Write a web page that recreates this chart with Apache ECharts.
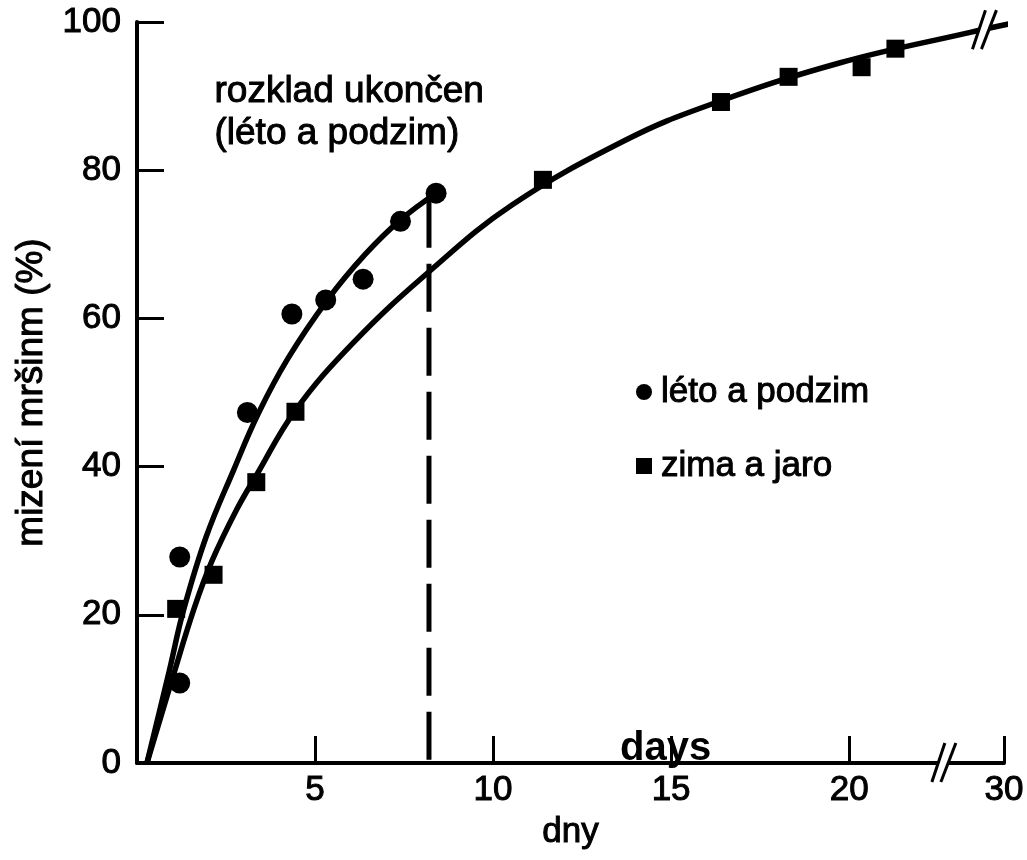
<!DOCTYPE html>
<html>
<head>
<meta charset="utf-8">
<title>mizení mršin</title>
<script src="https://cdn.jsdelivr.net/npm/echarts@6.0.0/dist/echarts.min.js"></script>
<style>
  html, body { margin: 0; padding: 0; background: #fff; }
  #chart { width: 1027px; height: 860px; }
</style>
</head>
<body>
<div id="chart"></div>
<script>
// léto a podzim - namerene body
var letoDny = [1.2, 1.2, 3.1, 4.35, 5.3, 6.35, 7.4, 8.4]
var letoMizeni = [10.8, 27.8, 47.3, 60.6, 62.5, 65.3, 73.1, 76.9]
// zima a jaro - namerene body
var zimaDny = [1.1, 2.15, 3.35, 4.45, 11.4, 16.4, 18.3, 20.35, 21.3]
var zimaMizeni = [20.8, 25.4, 37.9, 47.4, 78.7, 89.2, 92.6, 93.9, 96.4]
// prolozene krivky
var letoKrivkaDny = [0.28, 0.91, 1.3, 1.94, 2.71, 3.41, 4.24, 5.35, 6.4, 7.4, 8.4]
var letoKrivkaMizeni = [0, 12.5, 20.5, 30.5, 39.5, 47.2, 54.6, 62.5, 68.6, 73.3, 76.9]
var zimaKrivkaDny = [0.28, 1.0, 1.6, 2.1, 2.8, 3.35, 4.45, 6.09, 8.2, 10.53, 13.74, 16.07, 19.75, 23.4, 24.65]
var zimaKrivkaMizeni = [0, 11.5, 20.8, 27.2, 34.2, 38.8, 47.6, 56.8, 66.3, 75.3, 84.1, 88.8, 94.5, 98.6, 99.9]
// konec rozkladu (leto a podzim) - svisla carkovana cara
var konecDen = 8.2
var konecMizeni = 76
// osa x je za 20 prerusena, popisek 30 lezi na pozici 24.35
var xTickPos = [5, 10, 15, 20, 24.35]
var xTickText = ['5', '10', '15', '20', '30']
// mista preruseni (osa x a krivka zima)
var breakOsa = [22.66, 0]
var breakKrivka = [23.8, 98.9]

var font = '"Liberation Sans", Arial, Helvetica, sans-serif'
// sken ma tucnejsi pismo - jemny obrys
var obrys = { textBorderColor: '#000', textBorderWidth: 1 }

function pary(xs, ys) {
  return xs.map(function (x, i) { return [x, ys[i]] })
}

function txt(size, extra) {
  return Object.assign({ fontFamily: font, fontSize: size, color: '#000' }, obrys, extra || {})
}

var chart = echarts.init(document.getElementById('chart'))
chart.setOption({
  animation: false,
  backgroundColor: '#fff',
  grid: { left: 137, right: 11, top: 22, bottom: 97 },
  legend: {
    orient: 'vertical',
    left: 631,
    top: 369,
    itemWidth: 16,
    itemHeight: 16,
    itemGap: 38,
    selectedMode: false,
    itemStyle: { opacity: 1 },
    textStyle: txt(35, { padding: [0, 0, 0, 4] }),
    data: [
      { name: 'léto a podzim', icon: 'circle' },
      { name: 'zima a jaro', icon: 'rect' }
    ]
  },
  xAxis: {
    type: 'value',
    min: 0,
    max: 24.35,
    name: 'dny',
    nameLocation: 'middle',
    nameGap: 52,
    nameTextStyle: txt(35),
    axisLine: { show: true, lineStyle: { color: '#000', width: 4 } },
    axisTick: { inside: true, length: 27, customValues: xTickPos, lineStyle: { color: '#000', width: 3 } },
    axisLabel: Object.assign(txt(35, { margin: 10 }), {
      customValues: xTickPos,
      formatter: function (v) { return xTickText[xTickPos.indexOf(v)] }
    }),
    splitLine: { show: false }
  },
  yAxis: {
    type: 'value',
    min: 0,
    max: 100,
    interval: 20,
    name: 'mizení mršinm (%)',
    nameLocation: 'middle',
    nameRotate: 90,
    nameGap: 82,
    nameTextStyle: txt(37),
    axisLine: { show: true, lineStyle: { color: '#000', width: 4 } },
    axisTick: { show: true, inside: true, length: 27, lineStyle: { color: '#000', width: 3 } },
    axisLabel: txt(35, { margin: 16 }),
    splitLine: { show: false }
  },
  series: [
    {
      name: 'léto křivka',
      type: 'line',
      data: pary(letoKrivkaDny, letoKrivkaMizeni),
      smooth: 0.4,
      showSymbol: false,
      silent: true,
      lineStyle: { color: '#000', width: 5.5 }
    },
    {
      name: 'zima křivka',
      type: 'line',
      data: pary(zimaKrivkaDny, zimaKrivkaMizeni),
      smooth: 0.4,
      showSymbol: false,
      clip: false,
      silent: true,
      lineStyle: { color: '#000', width: 5.5 }
    },
    {
      name: 'konec',
      type: 'line',
      data: [[konecDen, konecMizeni], [konecDen, 0]],
      showSymbol: false,
      silent: true,
      lineStyle: { color: '#000', width: 5, type: [48, 16] }
    },
    {
      name: 'léto a podzim',
      type: 'scatter',
      symbol: 'circle',
      symbolSize: 21,
      itemStyle: { color: '#000', opacity: 1 },
      data: pary(letoDny, letoMizeni)
    },
    {
      name: 'zima a jaro',
      type: 'scatter',
      symbol: 'rect',
      symbolSize: 18,
      itemStyle: { color: '#000', opacity: 1 },
      data: pary(zimaDny, zimaMizeni)
    }
  ]
})

// znacky preruseni "//" a texty
function lomitka(stred) {
  var c = chart.convertToPixel({ gridIndex: 0 }, stred)
  var x = c[0], y = c[1]
  return [
    { type: 'polygon', z: 100, shape: { points: [[x - 11, y + 19], [x + 2, y - 20], [x + 11, y - 20], [x - 2, y + 19]] }, style: { fill: '#fff' } },
    { type: 'line', z: 101, shape: { x1: x - 12, y1: y + 19, x2: x + 1, y2: y - 20 }, style: { stroke: '#000', lineWidth: 3 } },
    { type: 'line', z: 101, shape: { x1: x - 3, y1: y + 19, x2: x + 12, y2: y - 20 }, style: { stroke: '#000', lineWidth: 3 } }
  ]
}

chart.setOption({
  graphic: lomitka(breakOsa).concat(lomitka(breakKrivka)).concat([
    {
      type: 'text', z: 100, left: 214, top: 71,
      style: { text: 'rozklad ukončen\n(léto a podzim)', font: '37px ' + font, lineHeight: 42, fill: '#000', stroke: '#000', lineWidth: 1 }
    },
    {
      type: 'text', z: 100, left: 620, top: 729,
      style: { text: 'days', font: 'bold 40px ' + font, fill: '#000' }
    }
  ])
})
</script>
</body>
</html>
